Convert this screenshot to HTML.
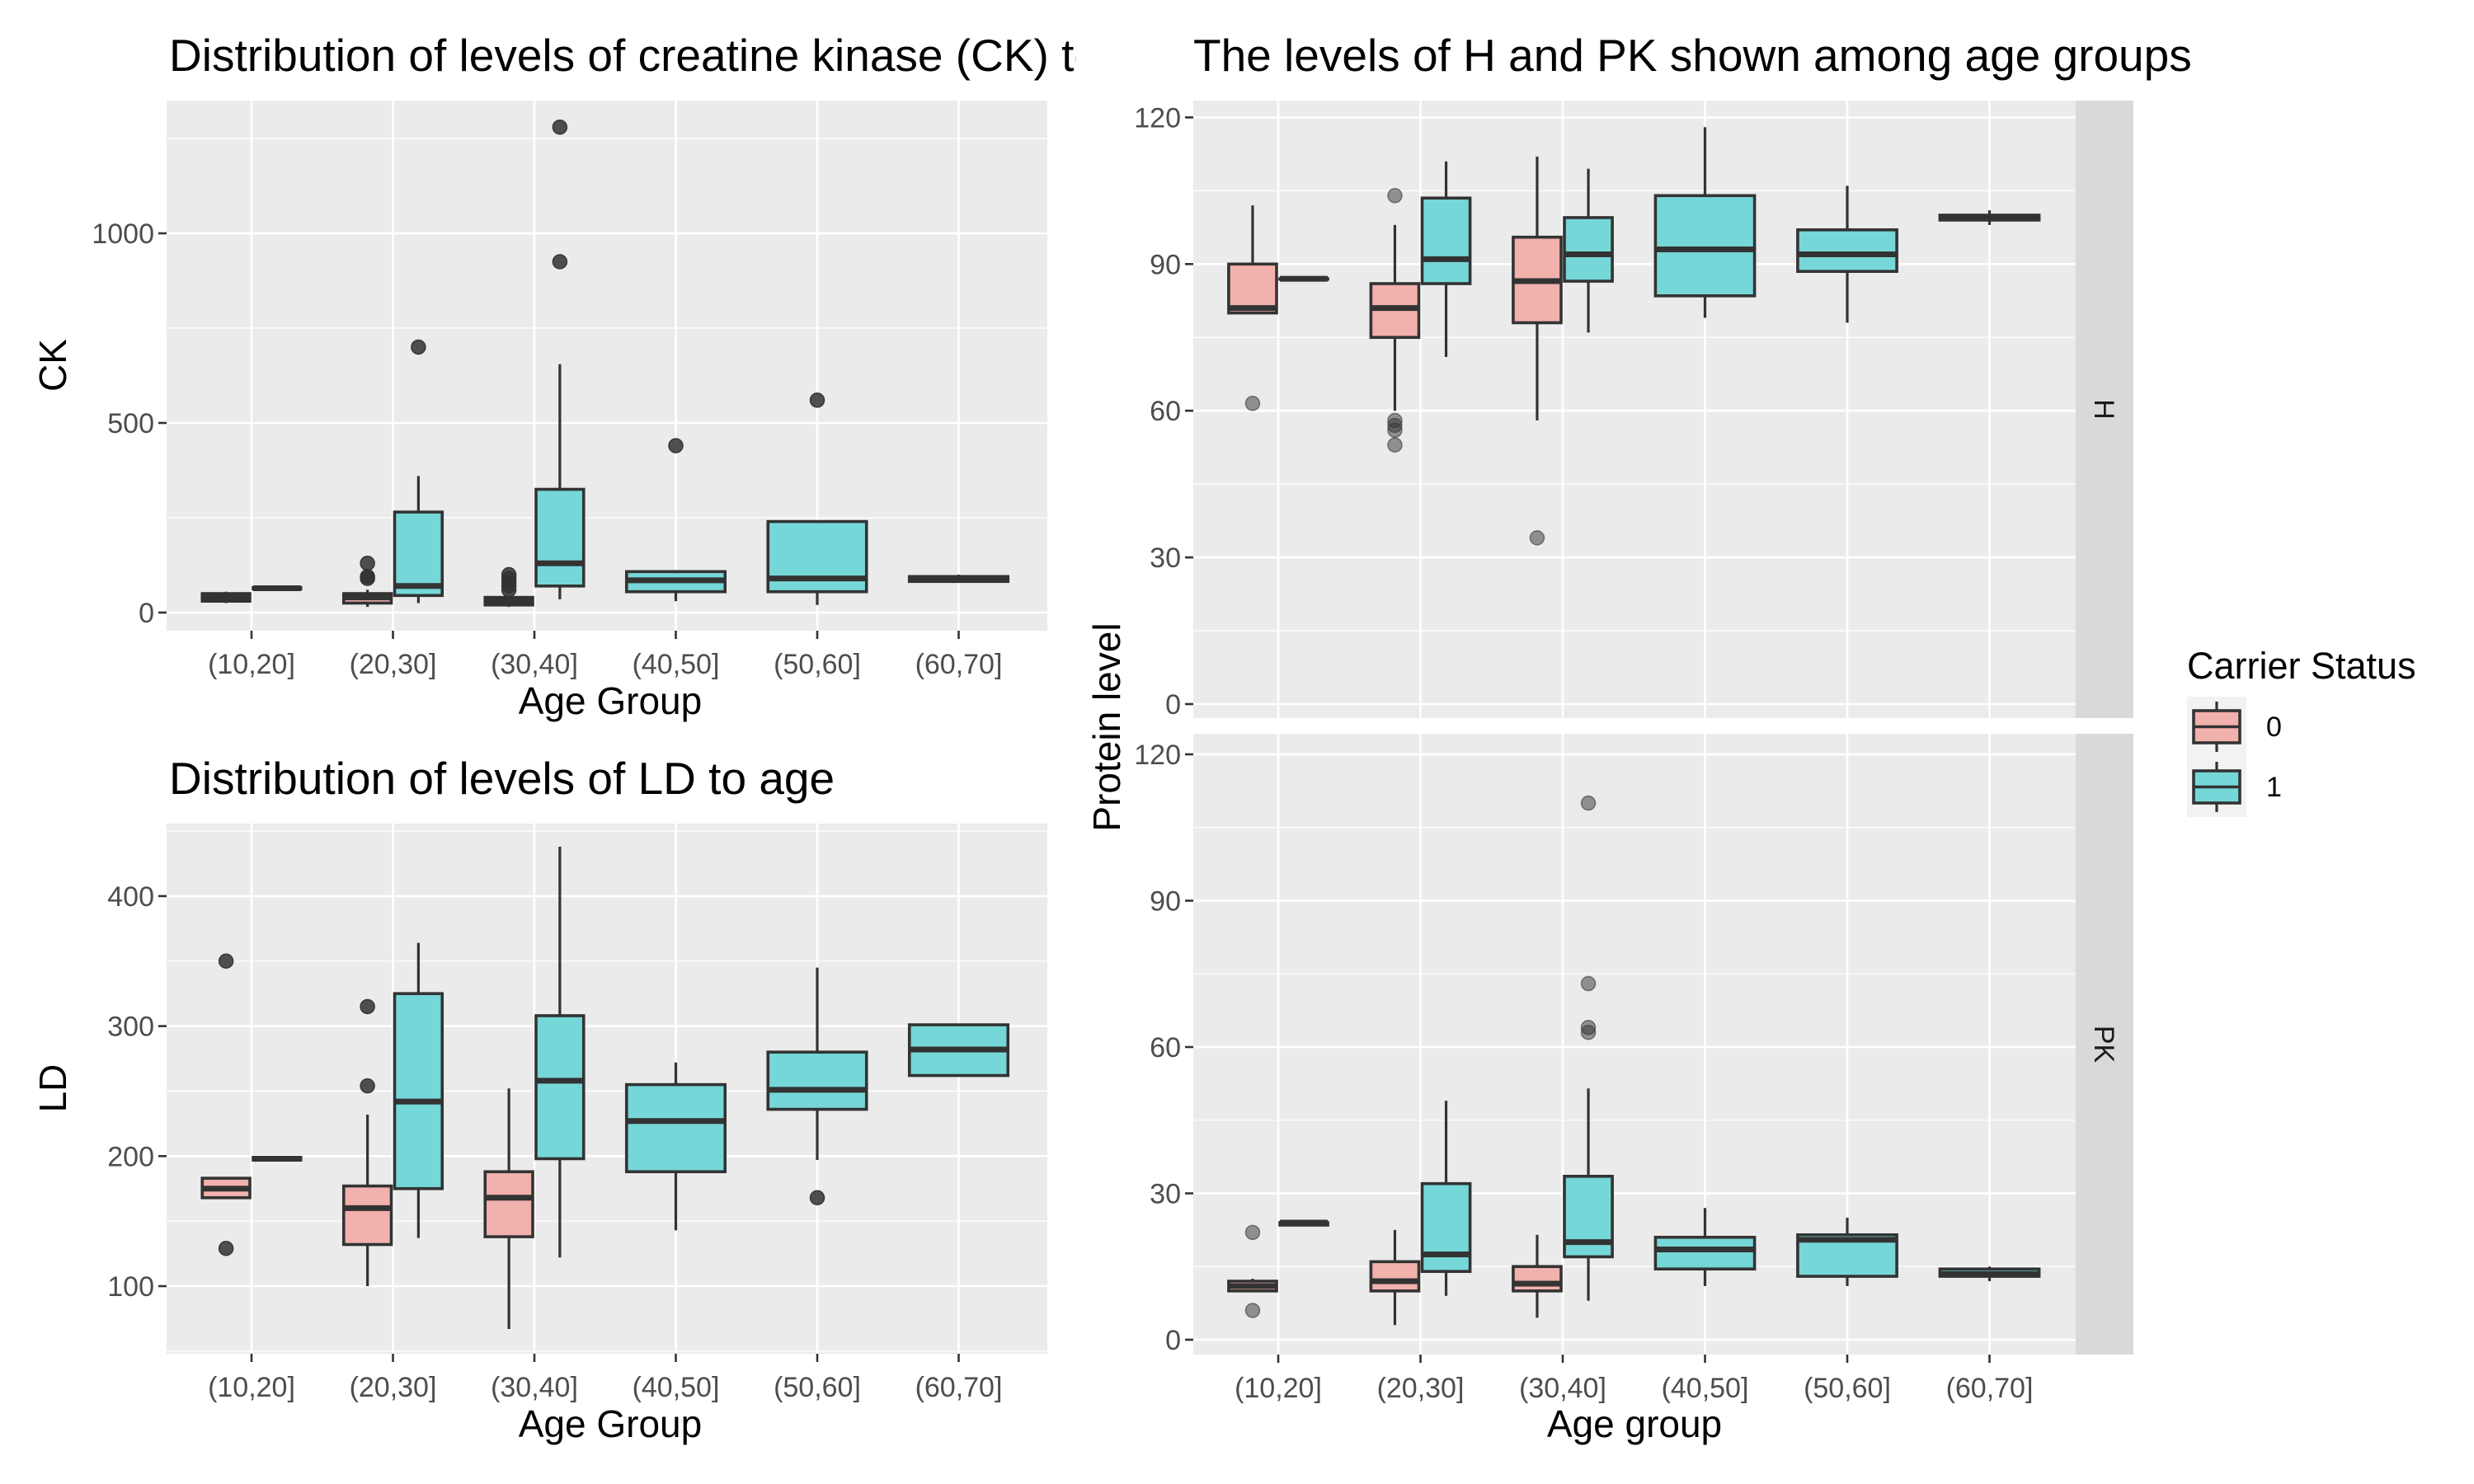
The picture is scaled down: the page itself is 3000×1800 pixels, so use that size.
<!DOCTYPE html>
<html><head><meta charset="utf-8">
<style>
html,body{margin:0;padding:0;background:#fff;}
svg{display:block;font-family:"Liberation Sans",sans-serif;}
</style></head>
<body>
<svg id="chart" width="3000" height="1800" viewBox="0 0 3000 1800" xmlns="http://www.w3.org/2000/svg">
<defs><clipPath id="clipL"><rect x="0" y="0" width="1305" height="140"/></clipPath></defs>
<g id="root"></g>
</svg>
<script>
// ---- data ----
const categories = ["(10,20]","(20,30]","(30,40]","(40,50]","(50,60]","(60,70]"];
// each box: [category index, carrier group (0/1), min, q1, median, q3, max]
const groupsPerCategory = [2,2,2,1,1,1];
const ckBoxes = [
  [0,0,25,30,40,50,55],[0,1,60,62,64,66,68],
  [1,0,15,25,40,50,60],[1,1,25,45,70,265,360],
  [2,0,15,20,30,40,45],[2,1,35,70,130,325,655],
  [3,1,30,55,85,108,112],[4,1,20,55,90,240,240],[5,1,80,82,88,95,100]
];
const ckOutliers = [[1,0,90],[1,0,95],[1,0,130],[1,1,700],[2,0,60],[2,0,70],[2,0,80],[2,0,90],[2,0,100],[2,1,925],[2,1,1280],[3,1,440],[4,1,560]];
const ckTicks = [0,500,1000];
const ldBoxes = [
  [0,0,168,168,175,183,183],[0,1,197,197,198,199,199],
  [1,0,100,132,160,177,232],[1,1,137,175,242,325,364],
  [2,0,67,138,168,188,252],[2,1,122,198,258,308,438],
  [3,1,143,188,227,255,272],[4,1,197,236,251,280,345],[5,1,262,262,282,301,301]
];
const ldOutliers = [[0,0,129],[0,0,350],[1,0,254],[1,0,315],[4,1,168]];
const ldTicks = [100,200,300,400];
const hBoxes = [
  [0,0,80,80,81,90,102],[0,1,87,87,87,87,87],
  [1,0,60,75,81,86,98],[1,1,71,86,91,103.5,111],
  [2,0,58,78,86.5,95.5,112],[2,1,76,86.5,92,99.5,109.5],
  [3,1,79,83.5,93,104,118],[4,1,78,88.5,92,97,106],[5,1,98,99,99.5,100,101]
];
const hOutliers = [[0,0,61.5],[1,0,53],[1,0,56],[1,0,57],[1,0,58],[1,0,104],[2,0,34]];
const pkBoxes = [
  [0,0,10,10,11,12,12.5],[0,1,23.5,23.5,24,24,24.5],
  [1,0,3,10,12,16,22.5],[1,1,9,14,17.5,32,49],
  [2,0,4.5,10,11.5,15,21.5],[2,1,8,17,20,33.5,51.5],
  [3,1,11,14.5,18.5,21,27],[4,1,11,13,20.5,21.5,25],[5,1,12,13,13.5,14.5,15]
];
const pkOutliers = [[0,0,6],[0,0,22],[2,1,63],[2,1,64],[2,1,73],[2,1,110]];
const proteinTicks = [0,30,60,90,120];
const fills = ["#F1B1AC","#76D7D8"];

const NS = "http://www.w3.org/2000/svg";
const root = document.getElementById("root");
function mk(tag, attrs, parent){
  const e = document.createElementNS(NS, tag);
  for (const k in attrs) e.setAttribute(k, attrs[k]);
  (parent||root).appendChild(e);
  return e;
}
function txt(s, attrs, parent){ const e = mk("text", attrs, parent); e.textContent = s; return e; }

function panel(cfg){
  const g = mk("g", {});
  
  
  const y = v => cfg.y0 - (v - cfg.v0) * cfg.k;
  const x = i => cfg.x0 + i * cfg.step;
  mk("rect",{x:cfg.left,y:cfg.top,width:cfg.right-cfg.left,height:cfg.bottom-cfg.top,fill:"#EBEBEB"},g);
  const minors = [];
  for (let i=0;i<cfg.ticks.length;i++){
    const d = cfg.ticks[1]-cfg.ticks[0];
    minors.push(cfg.ticks[i]-d/2);
    if(i==cfg.ticks.length-1) minors.push(cfg.ticks[i]+d/2);
  }
  minors.forEach(v=>{const yy=y(v); if(yy>cfg.top&&yy<cfg.bottom) mk("line",{x1:cfg.left,x2:cfg.right,y1:yy,y2:yy,stroke:"#fff","stroke-width":1.3},g);});
  cfg.ticks.forEach(v=>{const yy=y(v); mk("line",{x1:cfg.left,x2:cfg.right,y1:yy,y2:yy,stroke:"#fff","stroke-width":2.6},g);});
  categories.forEach((c,i)=>{mk("line",{x1:x(i),x2:x(i),y1:cfg.top,y2:cfg.bottom,stroke:"#fff","stroke-width":2.6},g);});
  cfg.ticks.forEach(v=>{
    const yy=y(v);
    const t = mk("line",{x1:cfg.left-10,x2:cfg.left,y1:yy,y2:yy,stroke:"#333","stroke-width":2.6},g);
    
    
    const l = txt(String(v),{x:cfg.left-15,y:yy+12,"text-anchor":"end","font-size":34,fill:"#4D4D4D"},g);
    
    
  });
  if (cfg.showX) categories.forEach((c,i)=>{
    mk("line",{x1:x(i),x2:x(i),y1:cfg.bottom,y2:cfg.bottom+10,stroke:"#333","stroke-width":2.6},g);
    const l = txt(c,{x:x(i),y:cfg.bottom+52,"text-anchor":"middle","font-size":34,fill:"#4D4D4D"},g);
    
    
  });
  const bw = 0.72*cfg.step;
  function cx(ci, gr){
    const n = groupsPerCategory[ci];
    if (n===1) return {c:x(ci), w:bw};
    return {c: x(ci) + (gr===0 ? -bw/4 : bw/4), w: bw/2};
  }
  cfg.outliers.forEach(o=>{
    const p = cx(o[0],o[1]);
    const d = mk("circle",{cx:p.c,cy:y(o[2]),r:8.5,fill:cfg.outFill,"fill-opacity":cfg.outOp,stroke:cfg.outFill,"stroke-opacity":cfg.outOp+0.1,"stroke-width":1.5},g);
    
    
  });
  cfg.boxes.forEach(b=>{
    const p = cx(b[0],b[1]);
    const bg = mk("g",{},g);
    
    
    mk("line",{x1:p.c,x2:p.c,y1:y(b[2]),y2:y(b[3]),stroke:"#333","stroke-width":3.2},bg);
    mk("line",{x1:p.c,x2:p.c,y1:y(b[5]),y2:y(b[6]),stroke:"#333","stroke-width":3.2},bg);
    const h = Math.max(y(b[3])-y(b[5]),0.5);
    mk("rect",{x:p.c-p.w/2+2,y:y(b[5]),width:p.w-4,height:h,fill:fills[b[1]],stroke:"#333","stroke-width":3.6},bg);
    mk("line",{x1:p.c-p.w/2+2,x2:p.c+p.w/2-2,y1:y(b[4]),y2:y(b[4]),stroke:"#333","stroke-width":7},bg);
  });
  if (cfg.strip){
    mk("rect",{x:cfg.right,y:cfg.top,width:70,height:cfg.bottom-cfg.top,fill:"#D9D9D9"},g);
    const st = txt(cfg.strip,{x:0,y:0,"font-size":34,fill:"#1A1A1A","text-anchor":"middle",transform:`translate(${cfg.right+23},${(cfg.top+cfg.bottom)/2}) rotate(90)`},g);
    
    
  }
}

panel({name:"ck-panel",left:202,right:1270,top:122,bottom:765,x0:305,step:171.5,y0:743,v0:0,k:0.46,ticks:ckTicks,boxes:ckBoxes,outliers:ckOutliers,outFill:"#333",outOp:0.85,showX:true});
panel({name:"ld-panel",left:202,right:1270,top:999,bottom:1642,x0:305,step:171.5,y0:1560,v0:100,k:1.577,ticks:ldTicks,boxes:ldBoxes,outliers:ldOutliers,outFill:"#333",outOp:0.85,showX:true});
panel({name:"h-panel",left:1447,right:2517,top:122,bottom:871,x0:1550,step:172.5,y0:854,v0:0,k:5.93,ticks:proteinTicks,boxes:hBoxes,outliers:hOutliers,outFill:"#333",outOp:0.5,showX:false,strip:"H"});
panel({name:"pk-panel",left:1447,right:2517,top:890,bottom:1643,x0:1550,step:172.5,y0:1625,v0:0,k:5.917,ticks:proteinTicks,boxes:pkBoxes,outliers:pkOutliers,outFill:"#333",outOp:0.5,showX:true,strip:"PK"});

let t;
t = txt("Distribution of levels of creatine kinase (CK) to age",{x:205,y:86,"font-size":55,fill:"#000","clip-path":"url(#clipL)"});
 
t = txt("Distribution of levels of LD to age",{x:205,y:963,"font-size":55,fill:"#000"});
 
t = txt("The levels of H and PK shown among age groups",{x:1447,y:86,"font-size":55,fill:"#000"});
 
t = txt("Age Group",{x:740,y:866,"font-size":46,fill:"#000","text-anchor":"middle"});
 
t = txt("Age Group",{x:740,y:1743,"font-size":46,fill:"#000","text-anchor":"middle"});
 
t = txt("Age group",{x:1982,y:1743,"font-size":46,fill:"#000","text-anchor":"middle"});
 
t = txt("CK",{x:0,y:0,"font-size":46,fill:"#000","text-anchor":"middle",transform:"translate(80,443) rotate(-90)"});
 
t = txt("LD",{x:0,y:0,"font-size":46,fill:"#000","text-anchor":"middle",transform:"translate(80,1320) rotate(-90)"});
 
t = txt("Protein level",{x:0,y:0,"font-size":46,fill:"#000","text-anchor":"middle",transform:"translate(1358,882) rotate(-90)"});
 

const lg = mk("g",{});


t = txt("Carrier Status",{x:2652,y:823,"font-size":45,fill:"#000"},lg);
 
mk("rect",{x:2652,y:845,width:72,height:146,fill:"#F2F2F2"},lg);
["0","1"].forEach((lab,i)=>{
  const e = mk("g",{},lg);
  
  
  const top = 845 + i*73;
  mk("line",{x1:2688,x2:2688,y1:top+6,y2:top+67,stroke:"#333","stroke-width":3.2},e);
  mk("rect",{x:2660,y:top+17,width:56,height:39,fill:fills[i],stroke:"#333","stroke-width":3.6},e);
  mk("line",{x1:2660,x2:2716,y1:top+36.5,y2:top+36.5,stroke:"#333","stroke-width":3.6},e);
  txt(lab,{x:2748,y:top+48,"font-size":34,fill:"#000"},e);
});
</script>
</body></html>
